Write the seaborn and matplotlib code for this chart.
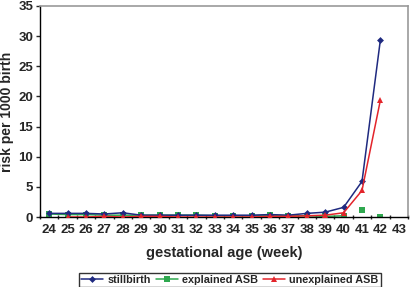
import numpy as np
import pandas as pd
import matplotlib
matplotlib.use("Agg")
import matplotlib.pyplot as plt
import seaborn as sns
from matplotlib.ticker import MultipleLocator

# ==========================================================
# Data
# ==========================================================

weeks = list(range(24, 44))
stillbirth = [0.6, 0.6, 0.6, 0.5, 0.7, 0.3, 0.3, 0.3, 0.3, 0.3, 0.3, 0.3, 0.4, 0.3, 0.6, 0.8, 1.6, 5.9, 29.4, np.nan]
explained = [0.5, 0.4, 0.4, 0.3, 0.3, 0.3, 0.3, 0.3, 0.3, 0.2, 0.2, 0.2, 0.3, 0.2, 0.2, 0.1, 0.2, np.nan, np.nan, np.nan]
explained_pts = [np.nan] * 17 + [1.1, 0.0, np.nan]
unexplained = [np.nan, 0.0, 0.0, 0.1, 0.0, 0.1, 0.1, 0.0, 0.0, 0.0, 0.0, 0.0, 0.1, 0.1, 0.2, 0.3, 0.7, 4.4, 19.4, np.nan]

df = pd.DataFrame({
    "x": np.arange(len(weeks)),
    "stillbirth": stillbirth,
    "explained": explained,
    "explained_pts": explained_pts,
    "unexplained": unexplained,
})

blue = "#1f2a80"
green = "#2fa84f"
red = "#e3242b"

# ==========================================================
# Plot
# ==========================================================

sns.set_style("white")
plt.rcParams["font.family"] = ["Liberation Sans", "DejaVu Sans"]
plt.rcParams["font.weight"] = "bold"

fig = plt.figure(figsize=(4.11, 2.87), dpi=100)
ax = fig.add_axes([40 / 411, 1 - 217 / 287, 368 / 411, 211 / 287])

sns.lineplot(data=df, x="x", y="stillbirth", ax=ax, color=blue, marker="D",
             markersize=3.5, markeredgewidth=0, linewidth=1.1, label="stillbirth", zorder=3)
sns.lineplot(data=df, x="x", y="explained", ax=ax, color=green, marker="s",
             markersize=5, markeredgewidth=0, linewidth=1.1, label="explained ASB", zorder=2)
ax.plot(df["x"], df["explained_pts"], color=green, marker="s", markersize=5,
        markeredgewidth=0, linestyle="none", zorder=2)
sns.lineplot(data=df, x="x", y="unexplained", ax=ax, color=red, marker="^",
             markersize=5, markeredgewidth=0, linewidth=1.1, label="unexplained ASB", zorder=4)

ax.set_xlim(-0.5, len(weeks) - 0.5)
ax.set_ylim(0, 35)
ax.set_xticks(df["x"])
ax.set_xticklabels(weeks)
ax.xaxis.set_minor_locator(MultipleLocator(1, offset=0.5))
ax.yaxis.set_major_locator(MultipleLocator(5))
ax.tick_params(axis="x", which="major", length=0, labelsize=9.5, pad=5)
ax.tick_params(axis="x", which="minor", length=3, width=1, direction="inout", bottom=True)
ax.tick_params(axis="y", length=3, width=1, direction="out", left=True, labelsize=9.5, pad=2)

for side in ["top", "right"]:
    ax.spines[side].set_color("#999999")
    ax.spines[side].set_linewidth(1.2)
for side in ["left", "bottom"]:
    ax.spines[side].set_color("black")
    ax.spines[side].set_linewidth(1.0)

ax.set_xlabel("gestational age (week)", fontsize=10.5, fontweight="bold", labelpad=7)
ax.set_ylabel("risk per 1000 birth", fontsize=10, fontweight="bold", labelpad=3)

ax.legend(loc="center", bbox_to_anchor=(230 / 411, 1 - 280 / 287),
          bbox_transform=fig.transFigure, ncol=3, frameon=True,
          fancybox=False, edgecolor="black", fontsize=7.8, handlelength=2.0,
          handletextpad=0.4, columnspacing=0.5, borderpad=0.2)
ax.get_legend().get_frame().set_linewidth(1.0)

plt.savefig("out.png", dpi=100)
